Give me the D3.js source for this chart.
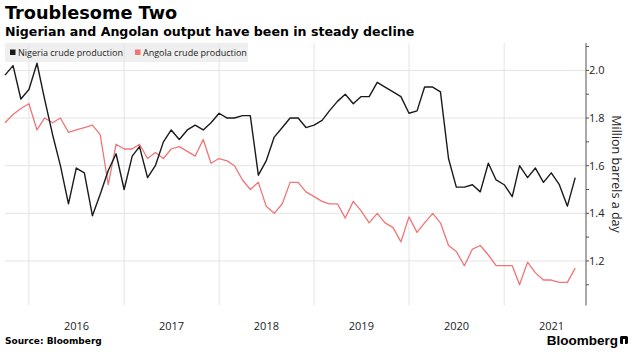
<!DOCTYPE html>
<html><head><meta charset="utf-8">
<script src="https://cdn.jsdelivr.net/npm/d3@7"></script>
<style>body{margin:0;background:#fff}</style>
</head><body><svg id="c" width="637" height="361"></svg>
<script>
// ---- data ----
const startMonth = "2015-10-01";   // first monthly observation
const nigeria = [1.98,2.02,1.88,1.92,2.03,1.88,1.73,1.60,1.44,1.59,1.57,1.39,1.48,1.58,1.65,1.50,1.64,1.68,1.55,1.60,
  1.70,1.75,1.71,1.75,1.77,1.75,1.78,1.82,1.80,1.80,1.81,1.81,1.56,1.62,1.72,1.76,1.80,1.80,1.76,1.77,
  1.79,1.83,1.87,1.90,1.86,1.89,1.89,1.95,1.93,1.91,1.89,1.82,1.83,1.93,1.93,1.91,1.63,1.51,1.51,1.52,
  1.49,1.61,1.54,1.52,1.47,1.60,1.55,1.59,1.53,1.57,1.52,1.43,1.55];
const angola = [1.78,1.815,1.84,1.86,1.75,1.80,1.78,1.80,1.74,1.75,1.76,1.77,1.73,1.52,1.69,1.67,1.67,1.69,1.63,1.655,
  1.63,1.67,1.68,1.66,1.64,1.71,1.61,1.63,1.62,1.60,1.54,1.50,1.53,1.43,1.40,1.44,1.53,1.53,1.49,1.47,
  1.45,1.44,1.44,1.38,1.45,1.41,1.36,1.40,1.36,1.34,1.28,1.385,1.32,1.36,1.40,1.36,1.265,1.24,1.18,1.25,
  1.265,1.225,1.18,1.18,1.18,1.10,1.195,1.15,1.12,1.12,1.11,1.11,1.17];
const yearLabels = ["2016","2017","2018","2019","2020","2021"];
const yMajorTicks = [1.2,1.4,1.6,1.8,2.0];
const yMinorTicks = [1.1,1.3,1.5,1.7,1.9,2.1];
const seriesNames = ["Nigeria crude production","Angola crude production"];
const seriesColors = ["#1a1a1a","#f07577"];

// ---- layout ----
const svg = d3.select("#c");
const plotL = 5, plotR = 586, plotT = 43, plotB = 305.5;
const parse = d3.timeParse("%Y-%m-%d");
const t0 = parse(startMonth);
const dates = nigeria.map((_, i) => d3.timeMonth.offset(t0, i));
const x = d3.scaleTime().domain([t0, dates[dates.length-1]]).range([5, 575.2]);
const y = d3.scaleLinear().domain([1.013, 2.115]).range([plotB, plotT]);

const gridColor = "#e4e4e4";
// horizontal grid
svg.append("g").selectAll("line").data(yMajorTicks).join("line")
  .attr("x1", plotL).attr("x2", plotR)
  .attr("y1", d => y(d)).attr("y2", d => y(d))
  .attr("stroke", gridColor).attr("stroke-width", 1);

// legend background
svg.append("rect").attr("x", 5).attr("y", 43).attr("width", 243).attr("height", 19).attr("fill", "#efefef");

// vertical grid at year starts
const yearStarts = yearLabels.map(s => parse(s + "-01-01"));
svg.append("g").selectAll("line").data(yearStarts).join("line")
  .attr("x1", d => x(d)).attr("x2", d => x(d))
  .attr("y1", plotT).attr("y2", plotB)
  .attr("stroke", gridColor).attr("stroke-width", 1);

// year labels at mid-year
svg.append("g").selectAll("text").data(yearLabels).join("text")
  .attr("x", d => x(parse(d + "-07-02")))
  .attr("y", 330)
  .attr("text-anchor", "middle")
  .attr("font-family", "Open Sans, sans-serif").attr("font-size", 11).attr("fill", "#222")
  .text(d => d);

// lines
const line = d3.line().x((d, i) => x(dates[i])).y(d => y(d));
svg.append("path").datum(angola).attr("d", line).attr("fill", "none")
  .attr("stroke", seriesColors[1]).attr("stroke-width", 1.3).attr("stroke-linejoin", "round");
svg.append("path").datum(nigeria).attr("d", line).attr("fill", "none")
  .attr("stroke", seriesColors[0]).attr("stroke-width", 1.4).attr("stroke-linejoin", "round");

// right axis
const yAxisG = svg.append("g");
yAxisG.append("line").attr("x1", plotR).attr("x2", plotR).attr("y1", plotT).attr("y2", plotB)
  .attr("stroke", "#555").attr("stroke-width", 1);
yAxisG.selectAll("line.tk").data(yMajorTicks.concat(yMinorTicks)).join("line").attr("class","tk")
  .attr("x1", plotR).attr("x2", plotR + 3)
  .attr("y1", d => y(d)).attr("y2", d => y(d))
  .attr("stroke", "#555").attr("stroke-width", 1);
yAxisG.selectAll("text").data(yMajorTicks).join("text")
  .attr("x", plotR + 3).attr("y", d => y(d)).attr("dy", "0.35em")
  .attr("font-family", "Open Sans, sans-serif").attr("font-size", 11).attr("fill", "#222")
  .text(d => d3.format(".1f")(d));
svg.append("text")
  .attr("transform", "translate(612,174) rotate(90)")
  .attr("text-anchor", "middle")
  .attr("font-family", "Open Sans, sans-serif").attr("font-size", 12.5).attr("fill", "#222")
  .text("Million barrels a day");

// legend
const lg = svg.append("g");
const legX = [10, 135];
seriesNames.forEach((n, i) => {
  lg.append("rect").attr("x", legX[i]).attr("y", 49.5).attr("width", 5.5).attr("height", 5.5).attr("fill", seriesColors[i]);
  lg.append("text").attr("x", legX[i] + 8).attr("y", 55.5)
    .attr("font-family", "Open Sans, sans-serif").attr("font-size", 9).attr("fill", "#222").text(n);
});

// titles
svg.append("text").attr("x", 5).attr("y", 18.5)
  .attr("font-family", "DejaVu Sans, sans-serif").attr("font-weight", "bold").attr("font-size", 17.7).attr("fill", "#000")
  .text("Troublesome Two");
svg.append("text").attr("x", 5).attr("y", 35.5)
  .attr("font-family", "DejaVu Sans, sans-serif").attr("font-weight", "bold").attr("font-size", 12.6).attr("fill", "#000")
  .text("Nigerian and Angolan output have been in steady decline");

// footer
svg.append("text").attr("x", 5).attr("y", 344)
  .attr("font-family", "DejaVu Sans, sans-serif").attr("font-weight", "bold").attr("font-size", 9).attr("fill", "#000")
  .text("Source: Bloomberg");
svg.append("text").attr("x", 618).attr("y", 345).attr("text-anchor", "end")
  .attr("font-family", "Liberation Sans, Arial, sans-serif").attr("font-weight", "bold").attr("font-size", 13.5).attr("fill", "#000")
  .text("Bloomberg");
const ic = svg.append("g").attr("transform", "translate(620,336)");
ic.append("rect").attr("width", 8).attr("height", 8).attr("rx", 1.5).attr("fill", "#000");
ic.append("rect").attr("x", 3).attr("y", 3).attr("width", 2).attr("height", 5).attr("fill", "#fff");
</script></body></html>
